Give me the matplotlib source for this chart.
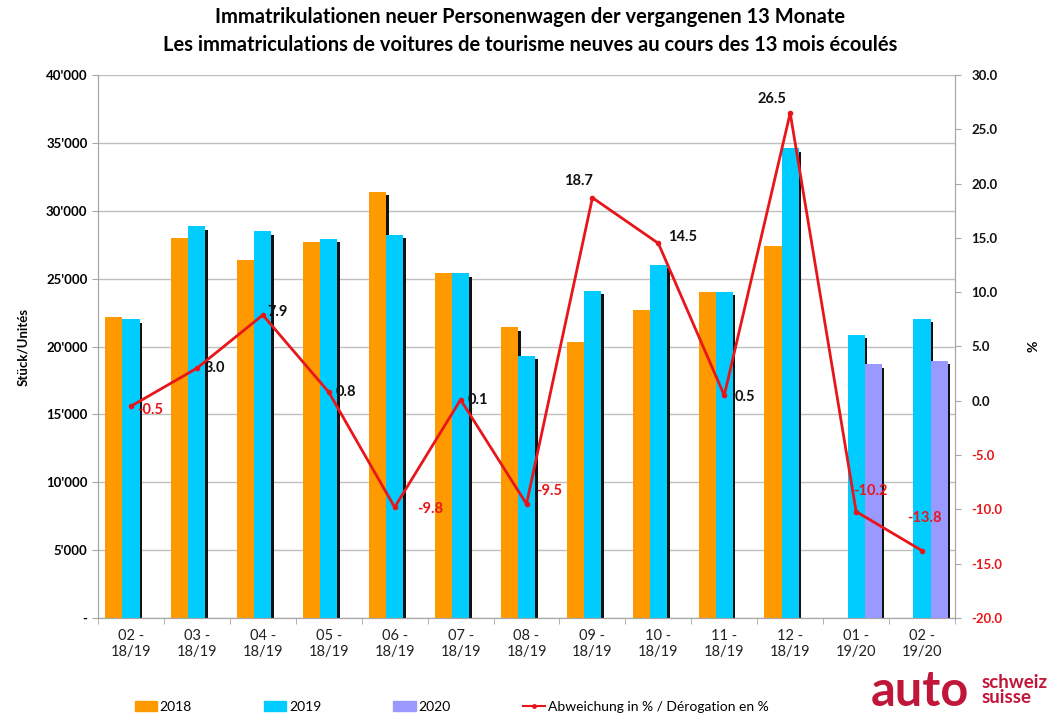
import numpy as np
import matplotlib.pyplot as plt
from matplotlib.patches import Patch
from matplotlib.lines import Line2D
from matplotlib.ticker import FuncFormatter

plt.rcParams['font.family'] = ['Lato', 'DejaVu Sans']

# data
months = ['02 -\n18/19', '03 -\n18/19', '04 -\n18/19', '05 -\n18/19', '06 -\n18/19',
          '07 -\n18/19', '08 -\n18/19', '09 -\n18/19', '10 -\n18/19', '11 -\n18/19',
          '12 -\n18/19', '01 -\n19/20', '02 -\n19/20']
y2018 = [22200, 28000, 26400, 27700, 31400, 25400, 21400, 20300, 22700, 24000, 27400, 0, 0]
y2019 = [22000, 28850, 28500, 27950, 28250, 25400, 19300, 24100, 26000, 24050, 34600, 20850, 22050]
y2020 = [0, 0, 0, 0, 0, 0, 0, 0, 0, 0, 0, 18700, 18950]
pct = [-0.5, 3.0, 7.9, 0.8, -9.8, 0.1, -9.5, 18.7, 14.5, 0.5, 26.5, -10.2, -13.8]
# label offsets in pixels (dx, dy, ha)
lbl_off = [(6, -4, 'left'), (8, 0, 'left'), (5, 3, 'left'), (7, 0, 'left'), (22, -2, 'left'),
           (7, 0, 'left'), (10, 13, 'left'), (-14, 17, 'center'), (10, 6, 'left'), (10, -2, 'left'),
           (-18, 14, 'center'), (-3, 21, 'left'), (2, 33, 'center')]

c18, c19, c20 = '#FF9900', '#00CCFF', '#9999FF'
red = '#E8161B'
logo_red = '#C0163A'

fig = plt.figure(figsize=(10.6, 7.16), dpi=100)
ax = fig.add_axes([98/1060, 1-618/716, 857/1060, 543/716])
ax2 = ax.twinx()

x = np.arange(len(months))
w = 0.26
for off, vals, col in [(-w, y2018, c18), (0, y2019, c19), (w, y2020, c20)]:
    vals = np.array(vals)
    show = vals > 0
    ax.bar(x[show] + off + 0.04, vals[show] - 250, w, color='#111111', zorder=2)
    ax.bar(x[show] + off, vals[show], w, color=col, zorder=3)

ax.set_xlim(-0.5, len(months) - 0.5)
ax.set_ylim(0, 40000)
ax.set_yticks(np.arange(0, 40001, 5000))
ax.yaxis.set_major_formatter(FuncFormatter(lambda v, p: '-' if v == 0 else f"{int(v):,}".replace(',', "'")))
ax.grid(axis='y', color='#BFBFBF', lw=1, zorder=0)
ax.set_axisbelow(True)
ax.set_xticks(x)
ax.set_xticklabels(months, fontsize=10.5, color='#222222')
ax.set_xticks(np.arange(-0.5, len(months), 1), minor=True)
ax.tick_params(axis='x', which='major', length=0, pad=8)
ax.tick_params(axis='x', which='minor', length=4, color='#A6A6A6')
ax.tick_params(axis='y', length=4, color='#A6A6A6', labelsize=9.5)
for t in ax.get_yticklabels():
    t.set_fontweight('bold')
ax.set_ylabel('Stück/Unités', fontsize=9.5, fontweight='bold', labelpad=12)
ax.spines['top'].set_visible(False)
ax2.spines['top'].set_visible(False)
for s in ['left', 'bottom', 'right']:
    ax.spines[s].set_color('#A6A6A6')
    ax2.spines[s].set_color('#A6A6A6')

ax2.plot(x, pct, color=red, lw=2, marker='o', ms=3, zorder=5)
ax2.set_ylim(-20, 30)
ax2.set_yticks(np.arange(-20, 30.1, 5))
ax2.yaxis.set_major_formatter(FuncFormatter(lambda v, p: f"{v:.1f}"))
ax2.tick_params(axis='y', length=4, color='#A6A6A6', labelsize=9.5, pad=8)
for t, v in zip(ax2.get_yticklabels(), np.arange(-20, 30.1, 5)):
    t.set_fontweight('bold')
    t.set_color(red if v < 0 else '#111111')
ax2.set_ylabel('%', fontsize=10, fontweight='bold', labelpad=18)

for xi, v, (dx, dy, ha) in zip(x, pct, lbl_off):
    ax2.annotate(f"{v:.1f}", (xi, v), xytext=(dx, dy), textcoords='offset pixels',
                 ha=ha, va='center', fontsize=10.5, fontweight='bold',
                 color=red if v < 0 else '#111111', zorder=6)

fig.text(0.5, 1-17/716, 'Immatrikulationen neuer Personenwagen der vergangenen 13 Monate',
         ha='center', va='center', fontsize=14.5, fontweight='bold')
fig.text(0.5, 1-45/716, 'Les immatriculations de voitures de tourisme neuves au cours des 13 mois écoulés',
         ha='center', va='center', fontsize=14.5, fontweight='bold')

handles = [Patch(color=c18), Patch(color=c19), Patch(color=c20),
           Line2D([], [], color=red, lw=1.5, marker='o', ms=2.5)]
fig.legend(handles, ['2018', '2019', '2020', 'Abweichung in % / Dérogation en %'],
           loc='center left', bbox_to_anchor=(122/1060, 1-707/716), ncol=4, frameon=False,
           fontsize=10, handlelength=1.6, handletextpad=0.2, columnspacing=5.2)

fig.text(871/1060, 1-692/716, 'auto', color=logo_red, fontsize=35, fontweight='bold',
         ha='left', va='center')
fig.text(982/1060, 1-690/716, 'schweiz\nsuisse', color=logo_red, fontsize=13.5, fontweight='bold',
         ha='left', va='center', linespacing=0.85)

fig.savefig('out.png', dpi=100)
